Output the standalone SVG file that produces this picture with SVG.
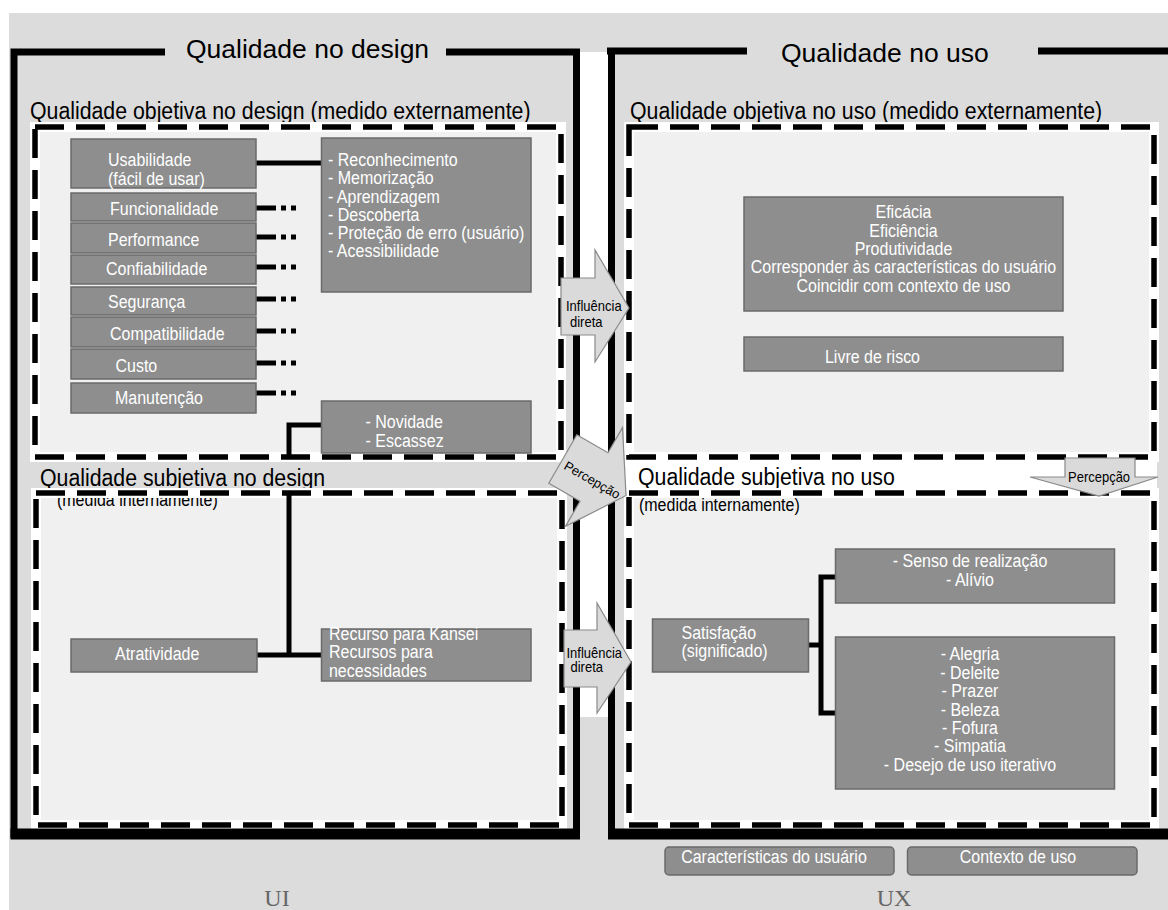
<svg xmlns="http://www.w3.org/2000/svg" width="1168" height="910" viewBox="0 0 1168 910">
  <style>
    .frame{fill:none;stroke:#000;stroke-width:7}
    .halo{fill:none;stroke:#fff;stroke-width:10}
    .dash{fill:none;stroke:#000;stroke-width:5.5;stroke-dasharray:29 12}
    .area{fill:#f0f0f0}
    .box{fill:#8e8e8e;stroke:#6a6a6a;stroke-width:1.5}
    .tall{transform-box:fill-box;transform-origin:50% 81%;transform:scaleY(1.1)}
    .wt{font-family:"Liberation Sans",Arial,sans-serif;font-size:16px;fill:#fff}
    .title{font-family:"Liberation Sans",Arial,sans-serif;font-size:26.5px;fill:#000}
    .sec{font-family:"Liberation Sans",Arial,sans-serif;font-size:21.3px;fill:#000}
    .sub{font-family:"Liberation Sans",Arial,sans-serif;font-size:16px;fill:#000}
    .link{fill:none;stroke:#000;stroke-width:5}
    .dots{fill:none;stroke:#000;stroke-width:5;stroke-dasharray:20 5 5 5 5 60}
    .arrow{fill:#dadada;stroke:#8a8a8a;stroke-width:1.2}
    .at{font-family:"Liberation Sans",Arial,sans-serif;font-size:13px;fill:#000}
    .foot{font-family:"Liberation Serif","Times New Roman",serif;font-size:24px;fill:#666}
    .mid{text-anchor:middle}
  </style>

  <!-- canvas -->
  <rect x="0" y="0" width="1168" height="910" fill="#fff"/>
  <rect x="9" y="13" width="1159" height="897" fill="#dcdcdc"/>
  <!-- white channel between the two halves -->
  <rect x="580" y="52" width="28" height="665" fill="#fff"/>

  <!-- dashed areas: fills -->
  <rect class="area" x="35" y="127" width="526" height="330"/>
  <rect class="area" x="36" y="493" width="526" height="332"/>
  <rect class="area" x="629" y="127" width="525" height="330"/>
  <rect class="area" x="629" y="493" width="525" height="332"/>
  <rect x="616" y="459" width="541" height="33" fill="#fff"/>

  <!-- section labels -->
  <g id="labels">
    <text class="title" x="186" y="58">Qualidade no design</text>
    <text class="title" x="781" y="62">Qualidade no uso</text>
    <text class="sec tall" x="30" y="119.5">Qualidade objetiva no design (medido externamente)</text>
    <text class="sec tall" x="630" y="119.5">Qualidade objetiva no uso (medido externamente)</text>
    <text class="sec tall" x="40" y="486.5">Qualidade subjetiva no design</text>
    <text class="sub tall" x="57" y="506">(medida internamente)</text>
    <text class="sec tall" x="638" y="485">Qualidade subjetiva no uso</text>
    <text class="sub tall" x="639" y="511">(medida internamente)</text>
  </g>

  <!-- dashed area borders -->
  <g id="dashed-borders">
    <rect class="halo" x="35" y="127" width="526" height="330"/>
    <rect class="halo" x="36" y="493" width="526" height="332"/>
    <rect class="halo" x="629" y="127" width="525" height="330"/>
    <rect class="halo" x="629" y="493" width="525" height="332"/>
    <rect class="dash" x="35" y="127" width="526" height="330"/>
    <rect class="dash" x="36" y="493" width="526" height="332"/>
    <rect class="dash" x="629" y="127" width="525" height="330"/>
    <rect class="dash" x="629" y="493" width="525" height="332"/>
  </g>

  <!-- outer frames -->
  <g id="frame-design">
    <path class="frame" d="M10.5,52 H165 M446,52 H576.5 V838 M14,48.5 V838"/>
    <path class="frame" style="stroke-width:11" d="M10.5,834 H580"/>
  </g>
  <g id="frame-uso">
    <path class="frame" d="M607,51 H747 M1038,51 H1168 M611.5,47.5 V838"/>
    <path class="frame" style="stroke-width:11" d="M608,834 H1168"/>
  </g>

  <!-- connectors -->
  <g id="connectors">
    <path class="link" d="M256,163 H321.5"/>
    <path class="dots" d="M256,208 H300"/>
    <path class="dots" d="M256,237 H300"/>
    <path class="dots" d="M256,267 H300"/>
    <path class="dots" d="M256,299 H300"/>
    <path class="dots" d="M256,331 H300"/>
    <path class="dots" d="M256,363 H300"/>
    <path class="dots" d="M256,393 H300"/>
    <path class="link" d="M321.5,425 H289 V458"/>
    <path class="link" d="M289,492 V655"/>
    <path class="link" d="M257,655 H321.5"/>
    <path class="link" d="M808,645 H821"/>
    <path class="link" d="M835,577 H821 V713 H835"/>

    <g id="arrow-influencia-1">
      <polygon class="arrow" points="561,278 595,278 595,250 629,308 595,362 595,335 561,335"/>
      <text class="at tall" x="566" y="311.5">Influência</text>
      <text class="at tall" x="570" y="327">direta</text>
    </g>
    <g id="arrow-percepcao-1" transform="translate(594,477) rotate(30)">
      <polygon class="arrow" points="-36,-28 0,-28 0,-57 37,0 0,57 0,28 -36,28"/>
      <text class="at mid" x="0" y="8">Percepção</text>
    </g>
    <g id="arrow-influencia-2">
      <polygon class="arrow" points="564,630 597,630 597,603 631,662 597,713 597,687 564,687"/>
      <text class="at tall" x="566.5" y="658">Influência</text>
      <text class="at tall" x="570.5" y="672.5">direta</text>
    </g>
    <g id="arrow-percepcao-2">
      <polygon class="arrow" points="1065,458 1135,458 1135,477 1158,477 1099,496 1030,477 1065,477"/>
      <text class="at tall" x="1068" y="482">Percepção</text>
    </g>
  </g>

  <!-- design: objective quality -->
  <g id="usabilidade">
    <rect class="box" x="71" y="139" width="185" height="49"/>
    <text class="wt tall" x="108" y="166.5">Usabilidade</text>
    <text class="wt tall" x="108" y="185">(fácil de usar)</text>
  </g>
  <g id="funcionalidade">
    <rect class="box" x="71" y="193" width="185" height="28"/>
    <text class="wt tall" x="110" y="215.5">Funcionalidade</text>
  </g>
  <g id="performance">
    <rect class="box" x="71" y="223" width="185" height="30"/>
    <text class="wt tall" x="108" y="246">Performance</text>
  </g>
  <g id="confiabilidade">
    <rect class="box" x="71" y="255" width="185" height="29"/>
    <text class="wt tall" x="106" y="275">Confiabilidade</text>
  </g>
  <g id="seguranca">
    <rect class="box" x="71" y="287" width="185" height="28"/>
    <text class="wt tall" x="108" y="308">Segurança</text>
  </g>
  <g id="compatibilidade">
    <rect class="box" x="71" y="317" width="185" height="30"/>
    <text class="wt tall" x="110" y="340.5">Compatibilidade</text>
  </g>
  <g id="custo">
    <rect class="box" x="71" y="349" width="185" height="30"/>
    <text class="wt tall" x="115.5" y="372.5">Custo</text>
  </g>
  <g id="manutencao">
    <rect class="box" x="71" y="383" width="185" height="30"/>
    <text class="wt tall" x="115" y="404">Manutenção</text>
  </g>
  <g id="usabilidade-itens">
    <rect class="box" x="321.5" y="138" width="209.5" height="154"/>
    <text class="wt tall" x="328" y="166.5">- Reconhecimento</text>
    <text class="wt tall" x="328" y="184.5">- Memorização</text>
    <text class="wt tall" x="328" y="202.7">- Aprendizagem</text>
    <text class="wt tall" x="328" y="220.7">- Descoberta</text>
    <text class="wt tall" x="328" y="239">- Proteção de erro (usuário)</text>
    <text class="wt tall" x="328" y="257">- Acessibilidade</text>
  </g>
  <g id="novidade">
    <rect class="box" x="321.5" y="401" width="209.5" height="52"/>
    <text class="wt tall" x="365.5" y="428">- Novidade</text>
    <text class="wt tall" x="365.5" y="446.7">- Escassez</text>
  </g>

  <!-- design: subjective quality -->
  <g id="atratividade">
    <rect class="box" x="71" y="639" width="186" height="33"/>
    <text class="wt tall" x="115" y="660">Atratividade</text>
  </g>
  <g id="recursos">
    <rect class="box" x="321.5" y="629" width="209.5" height="52"/>
    <text class="wt tall" x="329" y="640">Recurso para Kansei</text>
    <text class="wt tall" x="329" y="658">Recursos para</text>
    <text class="wt tall" x="329" y="677">necessidades</text>
  </g>

  <!-- use: objective quality -->
  <g id="eficacia">
    <rect class="box" x="744" y="197" width="319" height="114"/>
    <text class="wt mid tall" x="903.5" y="218.3">Eficácia</text>
    <text class="wt mid tall" x="903.5" y="237.3">Eficiência</text>
    <text class="wt mid tall" x="903.5" y="255.3">Produtividade</text>
    <text class="wt mid tall" x="903.5" y="273.3">Corresponder às características do usuário</text>
    <text class="wt mid tall" x="903.5" y="292.3">Coincidir com contexto de uso</text>
  </g>
  <g id="livre-de-risco">
    <rect class="box" x="744" y="337" width="319" height="34"/>
    <text class="wt tall" x="825" y="362.7">Livre de risco</text>
  </g>

  <!-- use: subjective quality -->
  <g id="realizacao">
    <rect class="box" x="835.5" y="549" width="279" height="54"/>
    <text class="wt mid tall" x="970" y="566.7">- Senso de realização</text>
    <text class="wt mid tall" x="970" y="586">- Alívio</text>
  </g>
  <g id="satisfacao">
    <rect class="box" x="652.5" y="619" width="156" height="53"/>
    <text class="wt tall" x="681.5" y="639.3">Satisfação</text>
    <text class="wt tall" x="681.5" y="657.3">(significado)</text>
  </g>
  <g id="emocoes">
    <rect class="box" x="835.5" y="637" width="279" height="152"/>
    <text class="wt mid tall" x="970" y="660">- Alegria</text>
    <text class="wt mid tall" x="970" y="679.3">- Deleite</text>
    <text class="wt mid tall" x="970" y="697.3">- Prazer</text>
    <text class="wt mid tall" x="970" y="716">- Beleza</text>
    <text class="wt mid tall" x="970" y="734">- Fofura</text>
    <text class="wt mid tall" x="970" y="751.7">- Simpatia</text>
    <text class="wt mid tall" x="970" y="770.7">- Desejo de uso iterativo</text>
  </g>

  <!-- context of use -->
  <g id="caracteristicas-usuario">
    <rect class="box" x="665" y="847" width="229" height="28" rx="4"/>
    <text class="wt mid tall" x="774" y="862.7">Características do usuário</text>
  </g>
  <g id="contexto-de-uso">
    <rect class="box" x="907.5" y="847" width="229.5" height="28" rx="4"/>
    <text class="wt mid tall" x="1018" y="862.7">Contexto de uso</text>
  </g>

  <g id="footer">
    <text class="foot mid" x="277" y="906">UI</text>
    <text class="foot mid" x="894" y="906">UX</text>
  </g>
</svg>
